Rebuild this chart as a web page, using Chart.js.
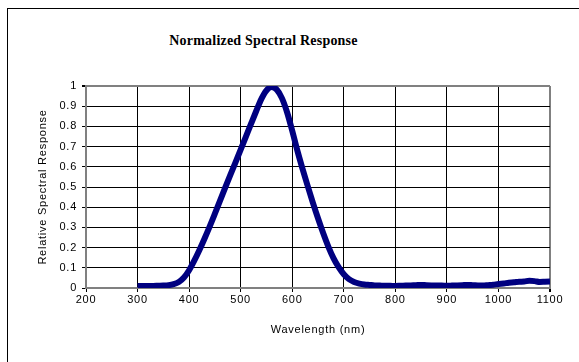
<!DOCTYPE html>
<html>
<head>
<meta charset="utf-8">
<script src="https://cdn.jsdelivr.net/npm/chart.js@4/dist/chart.umd.min.js"></script>
<style>
  html, body { margin: 0; padding: 0; background: #fff; }
  #wrap { position: relative; width: 579px; height: 362px; overflow: hidden; }
  /* outer chart frame: only left and top edges show in the picture */
  #frame {
    position: absolute; left: 7px; top: 8px; width: 640px; height: 420px;
    border-left: 1px solid #000; border-top: 1px solid #000;
  }
  #title {
    position: absolute; left: 0; width: 527px; top: 33px;
    text-align: center;
    font: bold 14px "Liberation Serif", "Times New Roman", serif;
    letter-spacing: 0.2px; color: #000;
  }
  canvas { position: absolute; left: 0; top: 0; }
</style>
</head>
<body>
<div id="wrap">
  <div id="frame"></div>
  <div id="title">Normalized Spectral Response</div>
  <canvas id="spectral" width="579" height="362"></canvas>
</div>
<script>
/* ------------------------------------------------------------
   Data
   ------------------------------------------------------------ */
const wavelengths = [
  300, 310, 320, 330, 340, 350, 360, 370, 380, 390,
  400, 410, 420, 430, 440, 450, 460, 470, 480, 490,
  500, 510, 520, 530, 540, 550, 560, 570, 580, 590,
  600, 610, 620, 630, 640, 650, 660, 670, 680, 690,
  700, 710, 720, 730, 740, 750, 760, 770, 780, 790,
  800, 810, 820, 830, 840, 850, 860, 870, 880, 890,
  900, 910, 920, 930, 940, 950, 960, 970, 980, 990,
  1000, 1010, 1020, 1030, 1040, 1050, 1060, 1070, 1080, 1090,
  1100
];

const response = [
  0.010, 0.010, 0.010, 0.010, 0.011, 0.012, 0.014, 0.019, 0.030, 0.052,
  0.088, 0.135, 0.188, 0.245, 0.305, 0.368, 0.432, 0.497, 0.560, 0.622,
  0.685, 0.748, 0.812, 0.875, 0.935, 0.978, 0.995, 0.982, 0.940, 0.870,
  0.778, 0.680, 0.590, 0.505, 0.423, 0.345, 0.272, 0.205, 0.148, 0.103,
  0.068, 0.044, 0.030, 0.022, 0.017, 0.015, 0.013, 0.012, 0.011, 0.011,
  0.010, 0.011, 0.012, 0.013, 0.014, 0.015, 0.014, 0.013, 0.012, 0.012,
  0.011, 0.012, 0.013, 0.014, 0.015, 0.014, 0.013, 0.012, 0.014, 0.016,
  0.020, 0.022, 0.026, 0.028, 0.031, 0.032, 0.036, 0.034, 0.030, 0.031,
  0.032
];

const xTicks = [200, 300, 400, 500, 600, 700, 800, 900, 1000, 1100];
const yTicks = [0, 0.1, 0.2, 0.3, 0.4, 0.5, 0.6, 0.7, 0.8, 0.9, 1];
const xTickLabels = ["200", "300", "400", "500", "600", "700", "800", "900", "1000", "1100"];
const yTickLabels = ["0", "0.1", "0.2", "0.3", "0.4", "0.5", "0.6", "0.7", "0.8", "0.9", "1"];

const FONT = "'Liberation Sans', Arial, sans-serif";
const GRAY = "#808080";

// Excel-style text is a little spaced out
const spacing = {
  id: "spacing",
  beforeUpdate(chart) { chart.ctx.letterSpacing = "0.75px"; },
  beforeDraw(chart) { chart.ctx.letterSpacing = "0.75px"; }
};

const points = wavelengths.map((w, i) => ({ x: w, y: response[i] }));

new Chart(document.getElementById("spectral").getContext("2d"), {
  type: "line",
  data: {
    datasets: [{
      data: points,
      borderColor: "#000080",
      borderWidth: 6,
      pointRadius: 0,
      cubicInterpolationMode: "monotone",
      fill: false
    }]
  },
  plugins: [spacing],
  options: {
    responsive: false,
    animation: false,
    layout: { padding: { left: 36, right: 29, top: 86, bottom: 25 } },
    plugins: {
      legend: { display: false },
      title: { display: false },
      tooltip: { enabled: false }
    },
    scales: {
      x: {
        type: "linear",
        min: xTicks[0],
        max: xTicks[xTicks.length - 1],
        afterBuildTicks: s => { s.ticks = xTicks.map(v => ({ value: v })); },
        afterFit: s => { s.height = 49; },
        ticks: {
          color: "#000",
          font: { family: FONT, size: 11 },
          padding: 1,
          maxRotation: 0,
          callback: (v, i) => xTickLabels[i]
        },
        grid: {
          color: c => (c.tick && c.tick.value === 1100 ? GRAY : "#000"),
          lineWidth: c => (c.tick && c.tick.value === 1100 ? 2 : 1),
          tickColor: "#000",
          tickLength: 4
        },
        border: { color: GRAY, width: 2 },
        title: {
          display: true,
          text: "Wavelength (nm)",
          color: "#000",
          font: { family: FONT, size: 11 },
          padding: 0
        }
      },
      y: {
        min: 0,
        max: 1,
        afterBuildTicks: s => { s.ticks = yTicks.map(v => ({ value: v })); },
        afterFit: s => { s.width = 50; },
        ticks: {
          color: "#000",
          font: { family: FONT, size: 11 },
          padding: 5,
          callback: (v, i) => yTickLabels[i]
        },
        grid: {
          color: c => (c.tick && c.tick.value === 1 ? GRAY : "#000"),
          lineWidth: c => (c.tick && c.tick.value === 1 ? 2 : 1),
          tickColor: "#000",
          tickLength: 4
        },
        border: { color: GRAY, width: 2 },
        title: {
          display: true,
          text: "Relative Spectral Response",
          color: "#000",
          font: { family: FONT, size: 11 },
          padding: 0
        }
      }
    }
  }
});
</script>
</body>
</html>
